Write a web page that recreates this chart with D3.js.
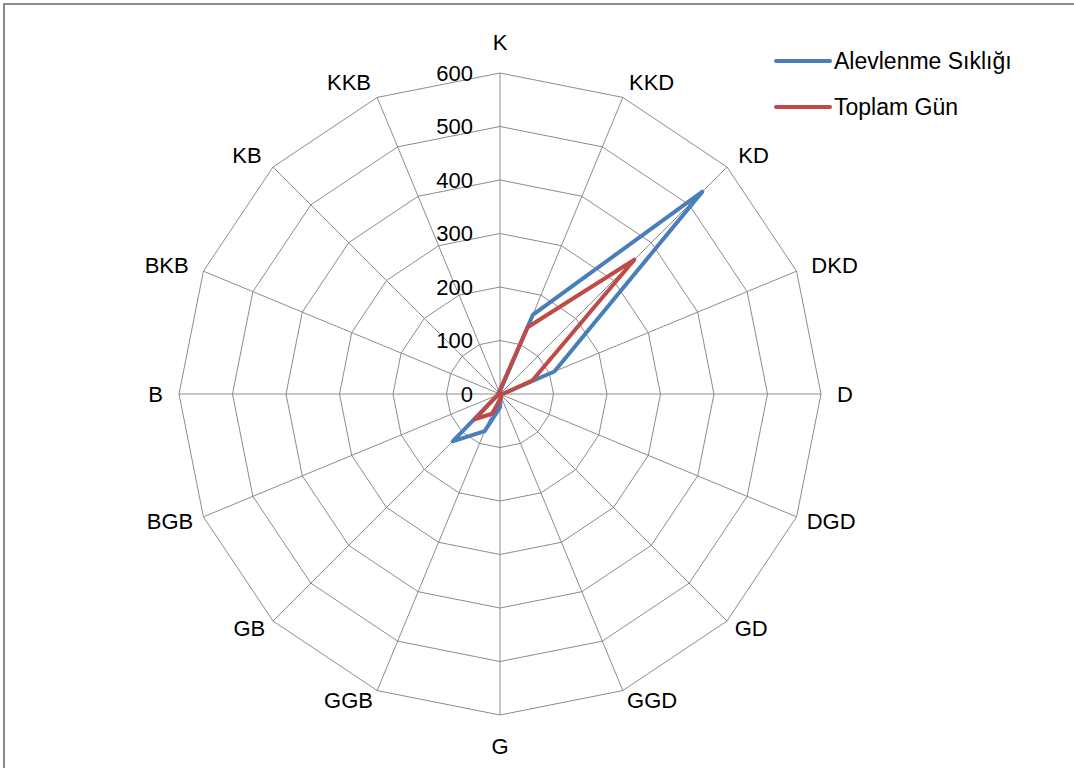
<!DOCTYPE html>
<html>
<head>
<meta charset="utf-8">
<script src="https://cdn.jsdelivr.net/npm/d3@7"></script>
<style>
  body { margin: 0; background: #fff; }
  svg text { font-family: "Liberation Sans", "DejaVu Sans", sans-serif; fill: #000; }
</style>
</head>
<body>
<svg id="chart" width="1074" height="768"></svg>
<script>
// compass directions, clockwise from north
var directions = ["K", "KKD", "KD", "DKD", "D", "DGD", "GD", "GGD", "G", "GGB", "GB", "BGB", "B", "BKB", "KB", "KKB"];
var alevlenme = [5, 160, 535, 110, 5, 3, 3, 5, 25, 75, 125, 5, 3, 3, 3, 5];
var toplamGun = [8, 135, 355, 65, 5, 3, 3, 5, 12, 40, 67, 5, 3, 2, 2, 3];
var ticks = [0, 100, 200, 300, 400, 500, 600];
var seriesNames = ["Alevlenme Sıklığı", "Toplam Gün"];
var colors = ["#4a7ebb", "#be4b48"];

var cx = 500, cy = 394, R = 321;

var svg = d3.select("#chart");

// frame (only top and left edges visible)
svg.append("rect")
  .attr("x", 4).attr("y", 4)
  .attr("width", 1200).attr("height", 900)
  .attr("fill", "none")
  .attr("stroke", "#8a8a8a")
  .attr("stroke-width", 2);

var r = d3.scaleLinear().domain([0, 600]).range([0, R]);
var angle = d3.scalePoint().domain(directions).range([0, 2 * Math.PI * 15 / 16]);

var g = svg.append("g").attr("transform", "translate(" + cx + "," + cy + ")");

function pt(dir, v) {
  var a = angle(dir);
  return [Math.sin(a) * r(v), -Math.cos(a) * r(v)];
}

// rings
ticks.slice(1).forEach(function (t) {
  g.append("path")
    .attr("d", d3.line()(directions.map(function (d) { return pt(d, t); })) + "Z")
    .attr("fill", "none")
    .attr("stroke", "#8c8c8c")
    .attr("stroke-width", 1);
});

// spokes
g.selectAll(".spoke")
  .data(directions)
  .enter().append("line")
  .attr("class", "spoke")
  .attr("x1", 0).attr("y1", 0)
  .attr("x2", function (d) { return pt(d, 600)[0]; })
  .attr("y2", function (d) { return pt(d, 600)[1]; })
  .attr("stroke", "#8c8c8c")
  .attr("stroke-width", 1);

// tick labels
g.selectAll(".tick")
  .data(ticks)
  .enter().append("text")
  .attr("x", -27)
  .attr("y", function (d) { return -r(d); })
  .attr("dy", "0.35em")
  .attr("text-anchor", "end")
  .style("font-size", "22px")
  .text(function (d) { return d; });

// direction labels: sit just outside the outer ring, pushed sideways by half their width
var labelR = R + 16;
g.selectAll(".dir")
  .data(directions)
  .enter().append("text")
  .attr("class", "dir")
  .attr("dy", "0.35em")
  .attr("text-anchor", "middle")
  .style("font-size", "22px")
  .text(function (d) { return d; })
  .each(function (d) {
    var a = angle(d);
    var s = Math.sin(a), c = Math.cos(a);
    var hw = this.getComputedTextLength() / 2;
    var rr = (c < -0.01 && Math.abs(s) > 0.01) ? labelR - 5 : labelR;
    var x = s * rr, y = -c * rr;
    if (Math.abs(s) > 0.01) x += Math.sign(s) * hw;
    else y -= Math.sign(c) * 15;
    d3.select(this).attr("x", x).attr("y", y);
  });

// series
[alevlenme, toplamGun].forEach(function (vals, k) {
  g.append("path")
    .attr("d", d3.line()(directions.map(function (d, i) { return pt(d, vals[i]); })) + "Z")
    .attr("fill", "none")
    .attr("stroke", colors[k])
    .attr("stroke-width", 4)
    .attr("stroke-linejoin", "round");
});

// legend
var legend = svg.selectAll(".legend")
  .data(seriesNames)
  .enter().append("g")
  .attr("transform", function (d, i) { return "translate(776," + (61 + i * 46) + ")"; });
legend.append("line")
  .attr("x1", 0).attr("x2", 54)
  .attr("stroke", function (d, i) { return colors[i]; })
  .attr("stroke-width", 4)
  .attr("stroke-linecap", "round");
legend.append("text")
  .attr("x", 58)
  .attr("dy", "0.35em")
  .style("font-size", "23px")
  .text(function (d) { return d; });
</script>
</body>
</html>
